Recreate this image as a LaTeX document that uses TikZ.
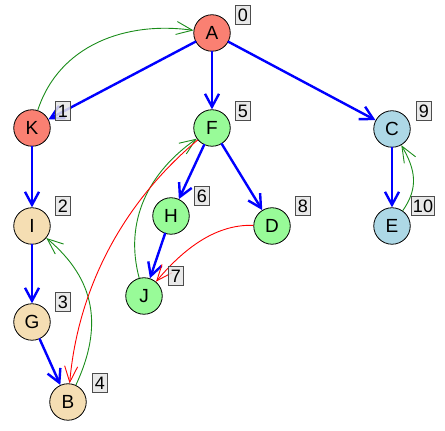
\documentclass[tikz,border=0pt]{standalone}
\usepackage{fontspec}
\setmainfont{Liberation Sans}
\usetikzlibrary{arrows.meta}
\definecolor{vsalmon}{HTML}{FA8072}
\definecolor{vgreen}{HTML}{98FB98}
\definecolor{vblue}{HTML}{ADD8E6}
\definecolor{vwheat}{HTML}{F5DEB3}
\definecolor{egreen}{HTML}{1A8C1A}
\definecolor{labfill}{HTML}{E5E5E5}
\definecolor{labdraw}{HTML}{4D4D4D}
\begin{document}
\begin{tikzpicture}[x=1pt,y=1pt,
  vert/.style={circle,draw=black,line width=0.8pt,minimum size=36.5pt,inner sep=0pt,font=\fontsize{19}{19}\selectfont},
  tree/.style={draw=blue,line width=2.4pt,line cap=round,-{Straight Barb[length=13pt,width=14pt]}},
  back/.style={draw=egreen,line width=0.9pt,-{Straight Barb[length=16pt,width=13pt]}},
  cross/.style={draw=red,line width=0.9pt,-{Straight Barb[length=16pt,width=13pt]}},
  lab/.style={draw=labdraw,line width=0.8pt,fill=labfill,fill opacity=0.85,text opacity=1,font=\fontsize{18}{18}\selectfont,inner sep=1.2pt,minimum width=15pt,minimum height=19pt}]
\useasboundingbox (0,0) rectangle (445,431);
% vertices
\node[vert,fill=vsalmon] (A) at (212,398) {A};
\node[vert,fill=vsalmon] (K) at (32,303) {K};
\node[vert,fill=vgreen] (F) at (212,303) {F};
\node[vert,fill=vblue] (C) at (392,302) {C};
\node[vert,fill=vblue] (E) at (392,205) {E};
\node[vert,fill=vgreen] (D) at (272,205) {D};
\node[vert,fill=vgreen] (H) at (171,215) {H};
\node[vert,fill=vgreen] (J) at (144,135) {J};
\node[vert,fill=vwheat] (I) at (32,205) {I};
\node[vert,fill=vwheat] (G) at (32,109) {G};
\node[vert,fill=vwheat] (B) at (68,29) {B};
% tree edges
\draw[tree] (A) -- (K);
\draw[tree] (A) -- (F);
\draw[tree] (A) -- (C);
\draw[tree] (K) -- (I);
\draw[tree] (I) -- (G);
\draw[tree] (G) -- (B);
\draw[tree] (F) -- (H);
\draw[tree] (F) -- (D);
\draw[tree] (H) -- (J);
\draw[tree] (C) -- (E);
% back edges
\draw[back] (K) to[out=72,in=172,looseness=1.0] (A);
\draw[back] (B) to[out=65,in=-40,looseness=1.1] (I);
\draw[back] (J) to[out=105,in=-145,looseness=1.0] (F);
\draw[back] (E) to[out=55,in=-60,looseness=1.1] (C);
% cross edges
\draw[cross] (F) to[out=-140,in=85,looseness=0.9] (B);
\draw[cross] (D) to[out=178,in=50,looseness=0.9] (J);
% labels
\node[lab] (l0) at (243,416) {0};
\node[lab] (l1) at (63,320) {1};
\node[lab] (l5) at (243,320) {5};
\node[lab] (l9) at (424,320) {9};
\node[lab] (l2) at (63,225) {2};
\node[lab] (l6) at (202,235) {6};
\node[lab] (l8) at (303,225) {8};
\node[lab] (l10) at (423,225) {10};
\node[lab] (l7) at (176,155) {7};
\node[lab] (l3) at (63,129) {3};
\node[lab] (l4) at (100,48) {4};
\end{tikzpicture}
\end{document}
